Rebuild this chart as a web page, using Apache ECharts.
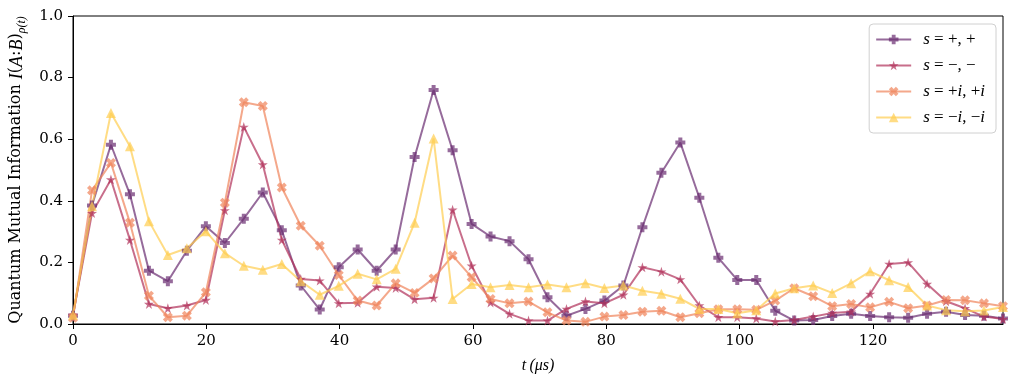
<!DOCTYPE html>
<html>
<head>
<meta charset="utf-8">
<script src="https://cdn.jsdelivr.net/npm/echarts@6/dist/echarts.min.js"></script>
<style>
  html, body { margin: 0; padding: 0; background: #fff; }
  #chart { width: 1013px; height: 386px; }
</style>
</head>
<body>
<div id="chart"></div>
<script>
// time axis (µs)
var times = [0, 2.85, 5.69, 8.54, 11.39, 14.23, 17.08, 19.93, 22.78, 25.62,
  28.47, 31.32, 34.16, 37.01, 39.86, 42.70, 45.55, 48.40, 51.24, 54.09,
  56.94, 59.79, 62.63, 65.48, 68.33, 71.17, 74.02, 76.87, 79.71, 82.56,
  85.41, 88.26, 91.10, 93.95, 96.80, 99.64, 102.49, 105.34, 108.18, 111.03,
  113.88, 116.72, 119.57, 122.42, 125.27, 128.11, 130.96, 133.81, 136.65, 139.50];

// s = +, +
var plusPlus = [0.027, 0.385, 0.582, 0.421, 0.173, 0.139, 0.238, 0.317, 0.263, 0.342,
  0.427, 0.304, 0.125, 0.047, 0.184, 0.242, 0.173, 0.242, 0.542, 0.760,
  0.564, 0.325, 0.284, 0.269, 0.210, 0.087, 0.027, 0.049, 0.076, 0.125,
  0.314, 0.491, 0.589, 0.410, 0.215, 0.143, 0.143, 0.043, 0.011, 0.013,
  0.026, 0.033, 0.026, 0.022, 0.020, 0.033, 0.040, 0.029, 0.027, 0.018];
// s = -, -
var minusMinus = [0.030, 0.360, 0.469, 0.273, 0.065, 0.051, 0.060, 0.078, 0.369, 0.640,
  0.518, 0.273, 0.146, 0.141, 0.067, 0.069, 0.121, 0.117, 0.080, 0.085,
  0.371, 0.189, 0.070, 0.033, 0.011, 0.011, 0.049, 0.073, 0.067, 0.095,
  0.184, 0.170, 0.145, 0.060, 0.022, 0.022, 0.018, 0.008, 0.013, 0.024,
  0.036, 0.040, 0.098, 0.195, 0.200, 0.130, 0.074, 0.051, 0.024, 0.016];
// s = +i, +i
var plusI = [0.020, 0.434, 0.523, 0.329, 0.092, 0.022, 0.027, 0.103, 0.394, 0.720,
  0.708, 0.443, 0.319, 0.254, 0.159, 0.076, 0.060, 0.132, 0.101, 0.148,
  0.222, 0.152, 0.081, 0.067, 0.073, 0.038, 0.011, 0.007, 0.024, 0.029,
  0.040, 0.043, 0.022, 0.035, 0.048, 0.048, 0.046, 0.076, 0.116, 0.090,
  0.058, 0.065, 0.054, 0.072, 0.051, 0.060, 0.078, 0.077, 0.067, 0.058];
// s = -i, -i
var minusI = [0.030, 0.382, 0.685, 0.577, 0.334, 0.224, 0.246, 0.301, 0.230, 0.189,
  0.176, 0.195, 0.139, 0.095, 0.124, 0.163, 0.145, 0.179, 0.329, 0.602,
  0.081, 0.130, 0.119, 0.127, 0.119, 0.128, 0.119, 0.132, 0.117, 0.125,
  0.108, 0.098, 0.082, 0.049, 0.049, 0.035, 0.045, 0.099, 0.116, 0.125,
  0.101, 0.132, 0.171, 0.142, 0.120, 0.060, 0.045, 0.041, 0.044, 0.055];

var xTicks = [0, 20, 40, 60, 80, 100, 120];
var seriesNames = ['s=+,+', 's=−,−', 's=+i,+i', 's=−i,−i'];

// legend labels in "math" style
var legendRich = {
  's=+,+': '{it|s}{rm| = +, +}',
  's=−,−': '{it|s}{rm| = −, −}',
  's=+i,+i': '{it|s}{rm| = +}{it|i}{rm|, +}{it|i}',
  's=−i,−i': '{it|s}{rm| = −}{it|i}{rm|, −}{it|i}'
};

var colors = ['#6a2c70', '#b0305a', '#f0835a', '#ffcd50'];
var symbols = [
  'path://M-1.2,-3L1.2,-3L1.2,-1.2L3,-1.2L3,1.2L1.2,1.2L1.2,3L-1.2,3L-1.2,1.2L-3,1.2L-3,-1.2L-1.2,-1.2Z',
  'path://M0,-1L0.225,-0.309L0.951,-0.309L0.363,0.118L0.588,0.809L0,0.382L-0.588,0.809L-0.363,0.118L-0.951,-0.309L-0.225,-0.309Z',
  'path://M1.344,-2.899L2.899,-1.344L1.556,0L2.899,1.344L1.344,2.899L0,1.556L-1.344,2.899L-2.899,1.344L-1.556,0L-2.899,-1.344L-1.344,-2.899L0,-1.556Z',
  'triangle'
];
var symbolSizes = [10, 10, 10, 10];

var allData = [plusPlus, minusMinus, plusI, minusI];

function pairs(vals) {
  return vals.map(function (v, i) { return [times[i], v]; });
}

var myChart = echarts.init(document.getElementById('chart'));

var series = allData.map(function (vals, k) {
  return {
    name: seriesNames[k],
    type: 'line',
    data: pairs(vals),
    symbol: symbols[k],
    symbolSize: symbolSizes[k],
    showAllSymbol: true,
    lineStyle: { width: 2, color: colors[k], opacity: 0.7 },
    itemStyle: { color: colors[k], opacity: 0.7 },
    emphasis: { disabled: true },
    animation: false
  };
});

var option = {
  animation: false,
  grid: {
    left: 73, right: 10, top: 16, bottom: 62,
    show: true, borderColor: '#000', borderWidth: 1, backgroundColor: '#fff'
  },
  legend: {
    orient: 'vertical',
    right: 17,
    top: 24,
    itemWidth: 35,
    itemHeight: 12,
    itemGap: 9,
    padding: [7, 11, 7, 6],
    backgroundColor: '#fff',
    borderColor: '#d0d0d0',
    borderWidth: 1,
    borderRadius: 4,
    data: seriesNames,
    formatter: function (name) { return legendRich[name]; },
    textStyle: {
      padding: [0, 0, 0, 7],
      rich: {
        it: { fontFamily: 'Liberation Serif', fontStyle: 'italic', fontSize: 17, color: '#000' },
        rm: { fontFamily: 'Liberation Serif', fontSize: 17, color: '#000' }
      }
    }
  },
  xAxis: {
    type: 'value',
    min: 0,
    max: 139.5,
    interval: 20,
    name: '{it|t} {it|(μs)}',
    nameLocation: 'middle',
    nameGap: 34,
    nameTextStyle: {
      rich: {
        it: { fontFamily: 'Liberation Serif', fontStyle: 'italic', fontSize: 16, color: '#000' }
      }
    },
    splitLine: { show: false },
    axisLine: { lineStyle: { color: '#000', width: 1 } },
    axisTick: { length: 5, lineStyle: { color: '#000' }, customValues: xTicks },
    axisLabel: {
      customValues: xTicks,
      margin: 10,
      color: '#000',
      fontFamily: 'DejaVu Serif',
      fontSize: 15
    }
  },
  yAxis: {
    type: 'value',
    min: 0,
    max: 1,
    interval: 0.2,
    name: '{rm|Quantum Mutual Information }{it|I}{rm|(}{it|A}{rm|:}{it|B}{rm|)}{sub|ρ(t)}',
    nameLocation: 'middle',
    nameGap: 44,
    nameRotate: 90,
    nameTextStyle: {
      rich: {
        rm: { fontFamily: 'DejaVu Serif', fontSize: 16, color: '#000', lineHeight: 20, verticalAlign: 'top' },
        it: { fontFamily: 'Liberation Serif', fontStyle: 'italic', fontSize: 18, color: '#000', lineHeight: 20, verticalAlign: 'top' },
        sub: { fontFamily: 'Liberation Serif', fontStyle: 'italic', fontSize: 12, color: '#000', lineHeight: 20, verticalAlign: 'bottom' }
      }
    },
    splitLine: { show: false },
    axisLine: { show: true, lineStyle: { color: '#000', width: 1 } },
    axisTick: { show: true, length: 5, lineStyle: { color: '#000' } },
    axisLabel: {
      margin: 10,
      color: '#000',
      fontFamily: 'DejaVu Serif',
      fontSize: 15,
      formatter: function (v) { return v.toFixed(1); }
    }
  },
  series: series
};

myChart.setOption(option);
</script>
</body>
</html>
